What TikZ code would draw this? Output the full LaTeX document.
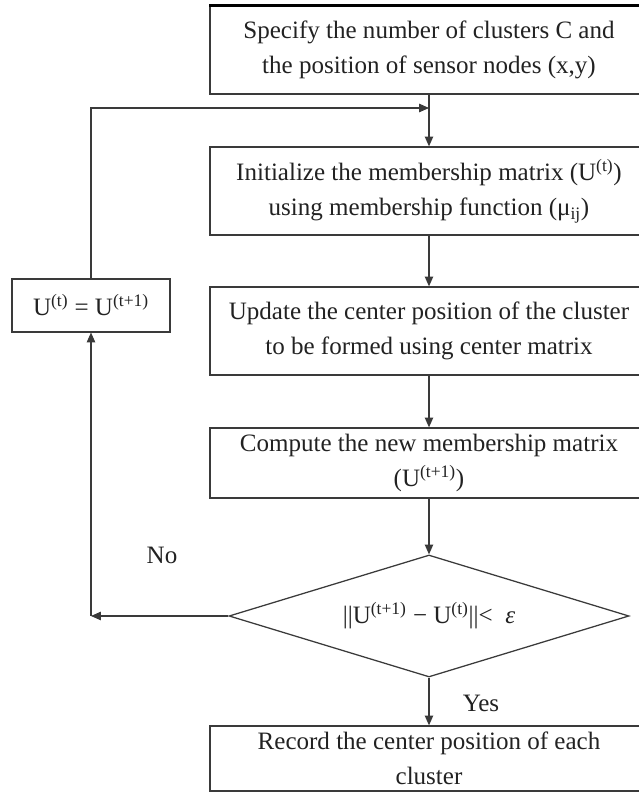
\documentclass[tikz,border=0pt]{standalone}
\usepackage{fontspec}
\setmainfont{Liberation Serif}
\usetikzlibrary{shapes.geometric,arrows.meta,positioning}
\definecolor{boxline}{HTML}{3A3A3A}
\definecolor{ink}{HTML}{222222}

\begin{document}
\begin{tikzpicture}[
    stepbox/.style={rectangle, draw=boxline, line width=0.9pt, minimum width=10.95cm, minimum height=2.2cm, text centered, align=center, text=ink, font=\fontsize{17.8}{25}\selectfont, inner sep=0pt},
    decision/.style={diamond, aspect=3.28, draw=boxline, line width=0.9pt, minimum width=10cm, minimum height=3.05cm, inner sep=0pt, text=ink, font=\fontsize{17.8}{25}\selectfont},
    flow/.style={-{Triangle[length=7pt,width=6pt]}, draw=boxline, line width=0.8pt},
    tag/.style={text=ink, font=\fontsize{17.8}{25}\selectfont}
]
    \clip (0,0) rectangle (15.975,19.825);

    % main column
    \node[stepbox] (spec) at (10.725,18.575) {Specify the number of clusters C and\\ the position of sensor nodes (x,y)};
    \node[stepbox] (init) at (10.725,15.05) {Initialize the membership matrix (U\textsuperscript{(t)})\\ using membership function (μ\textsubscript{ij})};
    \node[stepbox] (upd) at (10.725,11.55) {Update the center position of the cluster\\ to be formed using center matrix};
    \node[stepbox, minimum height=1.75cm] (comp) at (10.725,8.25) {Compute the new membership matrix\\ (U\textsuperscript{(t+1)})};
    \node[decision] (test) at (10.725,4.425) {||U\textsuperscript{(t+1)} − U\textsuperscript{(t)}||<~~\textit{ε}};
    \node[stepbox, minimum height=1.625cm] (rec) at (10.725,0.8625) {Record the center position of each\\ cluster};
    \draw[black, line width=2pt] (spec.north west) -- (spec.north east);

    % loop back
    \node[stepbox, minimum width=3.95cm, minimum height=1.325cm] (swap) at (2.275,12.19) {U\textsuperscript{(t)} = U\textsuperscript{(t+1)}};
    \coordinate (noend) at (test.west -| swap.south);
    \coordinate (join) at (10.725,17.125);

    \node[tag] (no) at (4.05,5.95) {No};
    \node[tag] (yes) at (12.025,2.25) {Yes};

    \draw[flow] (spec) -- (init);
    \draw[flow] (init) -- (upd);
    \draw[flow] (upd) -- (comp);
    \draw[flow] (comp) -- (test);
    \draw[flow] (test) -- (rec);
    \draw[flow] (test.west) -- (noend);
    \draw[flow] (noend) -- (swap.south);
    \draw[flow] (swap.north) |- (join);
\end{tikzpicture}
\end{document}
